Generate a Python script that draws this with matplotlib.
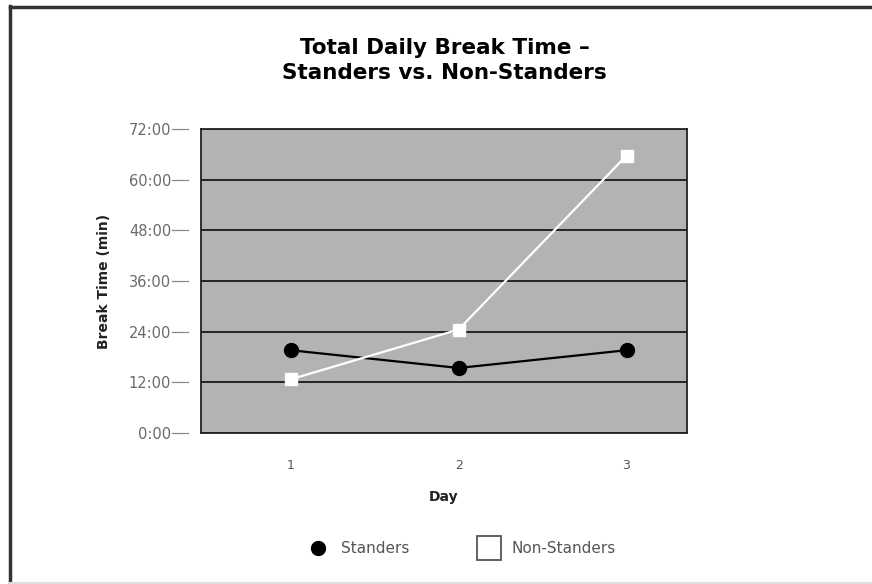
import matplotlib
matplotlib.use("Agg")
import matplotlib.pyplot as plt
from matplotlib.lines import Line2D
from matplotlib.ticker import FixedLocator, FuncFormatter

plt.rcParams['font.family'] = ['DejaVu Sans']

days = [1, 2, 3]
day_labels = ["1", "2", "3"]
standers = [19.6, 15.4, 19.6]
non_standers = [12.7, 24.5, 65.7]
y_ticks = [0, 12, 24, 36, 48, 60, 72]

fig = plt.figure(figsize=(8.72, 5.84), dpi=100)
ax = fig.add_axes([0.2305, 0.2586, 0.5573, 0.5205])
ax.set_facecolor('#b3b3b3')

for y in y_ticks:
    ax.axhline(y, color='#1a1a1a', lw=1.3, zorder=1)

ax.plot(days, standers, color='black', lw=1.6, marker='o', markersize=10,
        markerfacecolor='black', markeredgecolor='black', zorder=3)
ax.plot(days, non_standers, color='white', lw=1.6, marker='s', markersize=9,
        markerfacecolor='white', markeredgecolor='white', zorder=3)

ax.set_xlim(0.466, 3.36)
ax.set_ylim(0, 72)

ax.xaxis.set_major_locator(FixedLocator(days))
ax.set_xticklabels(day_labels)
ax.tick_params(axis='x', length=0, pad=19, labelsize=9, labelcolor='#555555')

ax.yaxis.set_major_locator(FixedLocator(y_ticks))
ax.yaxis.set_major_formatter(FuncFormatter(lambda v, p: f"{int(v)}:00"))
ax.tick_params(axis='y', length=0, pad=21.5, labelsize=10.5, labelcolor='#6a6a6a')

# small detached tick dashes to the left of the frame
trans = ax.get_yaxis_transform()
for y in y_ticks:
    ax.add_line(Line2D([-0.06, -0.027], [y, y], transform=trans, color='#8a8a8a',
                       lw=0.9, clip_on=False))

for s in ax.spines.values():
    s.set_color('#222222')
    s.set_linewidth(1.3)

ax.set_xlabel("Day", fontsize=10, fontweight='bold', labelpad=13, color='#222222')
ax.set_ylabel("Break Time (min)", fontsize=10, fontweight='bold', labelpad=13, color='#222222')

fig.text(0.510, 0.897, "Total Daily Break Time \u2013\nStanders vs. Non-Standers",
         ha='center', va='center', fontsize=15.5, fontweight='bold', linespacing=1.3)

handles = [
    Line2D([], [], linestyle='none', marker='o', markersize=10,
           markerfacecolor='black', markeredgecolor='black'),
    Line2D([], [], linestyle='none', marker='s', markersize=17,
           markerfacecolor='white', markeredgecolor='#555555', markeredgewidth=1.3),
]
leg = fig.legend(handles, ["Standers", "Non-Standers"], loc='center',
                 bbox_to_anchor=(0.527, 0.061), ncol=2, frameon=False,
                 fontsize=11, columnspacing=4.2, handletextpad=0.5)
for t in leg.get_texts():
    t.set_color('#555555')

# outer frame lines
fig.add_artist(Line2D([0.011, 1.0], [0.988, 0.988], transform=fig.transFigure,
                      color='#333333', lw=2.5))
fig.add_artist(Line2D([0.012, 0.012], [0.0, 0.99], transform=fig.transFigure,
                      color='#333333', lw=2.5))
fig.add_artist(Line2D([0.011, 1.0], [0.002, 0.002], transform=fig.transFigure,
                      color='#dddddd', lw=1.5))

fig.savefig("out.png", dpi=100)
